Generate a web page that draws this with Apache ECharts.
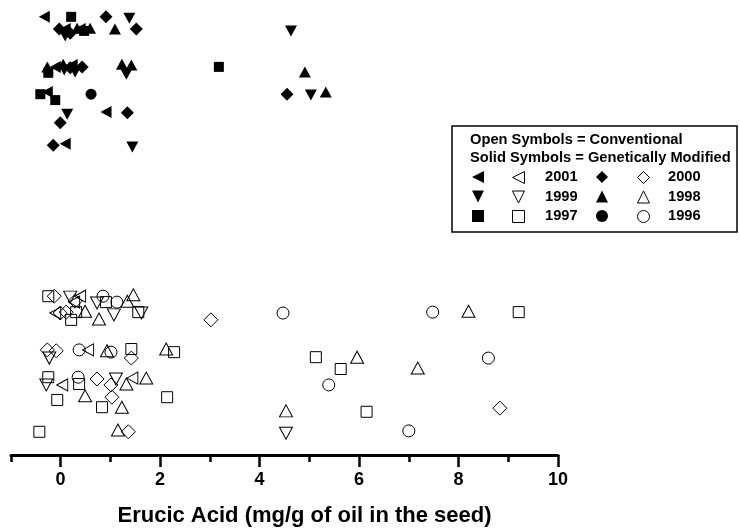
<!DOCTYPE html>
<html>
<head>
<meta charset="utf-8">
<script src="https://cdn.jsdelivr.net/npm/echarts@6/dist/echarts.min.js"></script>
<style>
  html, body { margin: 0; padding: 0; background: #fff; }
  #main { width: 740px; height: 528px; }
</style>
</head>
<body>
<div id="main"></div>
<script>
// x = erucic acid (mg/g of oil in the seed), y = vertical spread only (no scale shown)
// solid symbols = genetically modified
const gm2001 = [[-0.33, 96.3], [0.09, 93.6], [0.39, 93.6], [-0.11, 85.3], [0.23, 85.7], [-0.27, 79.8], [0.91, 75.4], [0.09, 68.4]];
const gm2000 = [[0.91, 96.3], [-0.03, 93.6], [0.19, 92.7], [1.52, 93.6], [0.19, 85.1], [0.43, 85.3], [4.55, 79.3], [-0.01, 73.0], [1.34, 75.2], [-0.15, 68.1]];
const gm1999 = [[1.38, 96.0], [0.09, 92.1], [4.63, 93.2], [0.07, 84.6], [0.29, 84.2], [1.32, 83.7], [5.03, 79.1], [0.13, 74.9], [1.44, 67.7]];
const gm1998 = [[0.33, 93.8], [0.59, 93.8], [1.09, 93.6], [-0.27, 85.3], [0.05, 85.9], [1.23, 85.9], [1.42, 85.7], [4.91, 84.2], [5.33, 79.8]];
const gm1997 = [[0.21, 96.3], [0.47, 93.2], [-0.25, 84.0], [3.18, 85.3], [-0.41, 79.3], [-0.11, 78.0]];
const gm1996 = [[0.61, 79.3]];
// open symbols = conventional
const cv2001 = [[0.39, 34.9], [0.27, 33.6], [-0.11, 31.2], [0.55, 23.1], [0.03, 15.4], [1.44, 16.9]];
const cv2000 = [[-0.13, 34.9], [0.29, 33.8], [-0.01, 31.2], [0.11, 31.4], [3.02, 29.7], [-0.27, 23.1], [-0.09, 22.9], [1.42, 21.3], [0.73, 16.7], [1.01, 15.4], [1.03, 12.7], [1.36, 5.1], [8.83, 10.3]];
const cv1999 = [[0.19, 34.7], [0.73, 33.4], [1.07, 30.8], [1.62, 31.2], [-0.23, 21.3], [-0.29, 15.4], [1.11, 16.7], [4.53, 4.8]];
const cv1998 = [[1.34, 33.8], [1.46, 35.2], [0.49, 31.6], [0.77, 29.9], [8.20, 31.6], [0.93, 22.9], [2.12, 23.3], [5.96, 21.5], [7.18, 19.1], [1.32, 15.6], [1.72, 16.9], [0.49, 13.0], [1.23, 10.5], [4.53, 9.7], [1.15, 5.5]];
const cv1997 = [[-0.25, 34.9], [0.91, 33.6], [0.31, 31.4], [0.21, 29.7], [1.56, 31.4], [9.21, 31.4], [1.42, 23.3], [2.28, 22.6], [5.13, 21.5], [5.63, 18.9], [-0.25, 17.1], [0.37, 15.6], [-0.07, 12.1], [0.83, 10.5], [2.14, 12.7], [6.15, 9.5], [-0.43, 5.1]];
const cv1996 = [[0.85, 34.9], [1.13, 33.6], [4.47, 31.2], [7.48, 31.4], [0.37, 23.1], [1.01, 22.6], [8.60, 21.3], [5.39, 15.4], [0.35, 17.1], [7.00, 5.3]];

const tickLabels = [0, 2, 4, 6, 8, 10];
const legendYears = [['2001', '2000'], ['1999', '1998'], ['1997', '1996']];

const FONT = 'Liberation Sans, Arial, sans-serif';
const LEFT_TRI = 'path://M0,5L10,0L10,10Z';
const DOWN_TRI = 'path://M0,0L10,0L5,10Z';

// name, data, symbol, size, filled
const seriesTable = [
  ['GM 2001', gm2001, LEFT_TRI, [11, 12], true],
  ['Conv 2001', cv2001, LEFT_TRI, [11, 12], false],
  ['GM 2000', gm2000, 'diamond', 13, true],
  ['Conv 2000', cv2000, 'diamond', 14, false],
  ['GM 1999', gm1999, DOWN_TRI, [12, 11], true],
  ['Conv 1999', cv1999, DOWN_TRI, [13, 12], false],
  ['GM 1998', gm1998, 'triangle', [12, 11], true],
  ['Conv 1998', cv1998, 'triangle', [13, 12], false],
  ['GM 1997', gm1997, 'rect', 10, true],
  ['Conv 1997', cv1997, 'rect', 11, false],
  ['GM 1996', gm1996, 'circle', 11, true],
  ['Conv 1996', cv1996, 'circle', 12, false]
];

const series = seriesTable.map(([name, data, symbol, size, filled]) => ({
  name: name,
  type: 'scatter',
  xAxisIndex: 0,
  yAxisIndex: 0,
  data: data,
  symbol: symbol,
  symbolSize: size,
  itemStyle: filled
    ? { color: '#000', opacity: 1 }
    : { color: 'rgba(0,0,0,0)', borderColor: '#000', borderWidth: 1, opacity: 1 },
  emphasis: { disabled: true },
  z: filled ? 3 : 2
}));

// legend icons: one small legend per icon, placed in the box
const colX = [478, 518, 602, 643];
const rowY = [177, 196.5, 216];
const legends = [];
legendYears.forEach((pair, r) => {
  pair.forEach((yr, k) => {
    ['GM ', 'Conv '].forEach((pre, j) => {
      const cx = colX[k * 2 + j];
      legends.push({
        data: [pre + yr],
        left: cx - 6,
        top: rowY[r] - 6,
        padding: 0,
        itemWidth: 12,
        itemHeight: 12,
        selectedMode: false,
        formatter: () => '',
        itemStyle: { borderWidth: pre === 'GM ' ? 0 : 1, opacity: 1 },
        z: 10
      });
    });
  });
});

const txt = (x, y, s) => ({
  type: 'text',
  x: x,
  y: y,
  z: 5,
  style: { text: s, font: 'bold 14.7px ' + FONT, fill: '#000', align: 'left', verticalAlign: 'middle' }
});

const graphic = [
  {
    type: 'rect',
    z: 1,
    shape: { x: 452, y: 126, width: 285, height: 106 },
    style: { fill: '#fff', stroke: '#000', lineWidth: 1.5 }
  },
  txt(470, 140, 'Open Symbols = Conventional'),
  txt(470, 158, 'Solid Symbols = Genetically Modified')
];
legendYears.forEach((pair, r) => {
  graphic.push(txt(545, rowY[r], pair[0]));
  graphic.push(txt(668, rowY[r], pair[1]));
});

const chart = echarts.init(document.getElementById('main'));
chart.setOption({
  animation: false,
  backgroundColor: '#fff',
  grid: [
    { left: 11, right: 182, top: 0, bottom: 73, outerBoundsMode: 'none', containLabel: false },
    { left: 60.5, right: 182, top: 0, bottom: 73, outerBoundsMode: 'none', containLabel: false }
  ],
  xAxis: [
    {
      gridIndex: 0,
      type: 'value',
      min: -1,
      max: 10,
      interval: 1,
      axisLine: { onZero: false, lineStyle: { color: '#000', width: 3 } },
      axisTick: { length: 7, lineStyle: { color: '#000', width: 2.5 } },
      axisLabel: { show: false },
      splitLine: { show: false },
      name: 'Erucic Acid (mg/g of oil in the seed)',
      nameLocation: 'middle',
      nameGap: 50,
      nameTextStyle: {
        color: '#000', fontFamily: FONT, fontWeight: 'bold', fontSize: 22,
        padding: [0, 0, 0, 40]
      }
    },
    {
      gridIndex: 1,
      type: 'value',
      min: 0,
      max: 10,
      interval: 2,
      axisLine: { show: false },
      axisTick: { length: 12, lineStyle: { color: '#000', width: 2.5 } },
      axisLabel: {
        margin: 16,
        color: '#000', fontFamily: FONT, fontWeight: 'bold', fontSize: 18,
        formatter: v => (tickLabels.includes(v) ? String(v) : '')
      },
      splitLine: { show: false }
    }
  ],
  yAxis: [
    { gridIndex: 0, type: 'value', min: 0, max: 100, show: false },
    { gridIndex: 1, type: 'value', min: 0, max: 100, show: false }
  ],
  legend: legends,
  graphic: graphic,
  series: series
});
</script>
</body>
</html>
